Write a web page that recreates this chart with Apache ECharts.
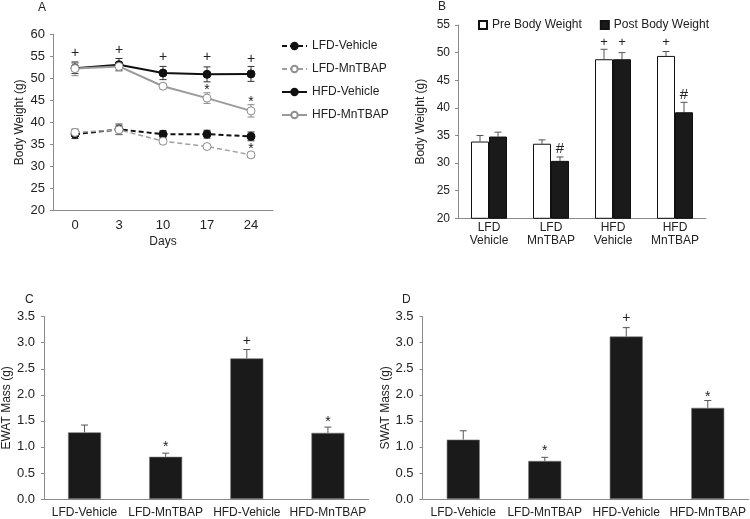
<!DOCTYPE html>
<html><head><meta charset="utf-8">
<script src="https://cdn.jsdelivr.net/npm/echarts@6/dist/echarts.min.js"></script>
<style>html,body{margin:0;padding:0;background:#fff}#c{width:750px;height:519px}</style>
</head><body><div id="c"></div>
<script>
// ---- Panel A data ----
const days = ['0', '3', '10', '17', '24'];
const lfdVeh = [37.3, 38.4, 37.3, 37.3, 36.8];
const lfdVehErr = [1.0, 1.2, 0.8, 0.9, 1.0];
const lfdMn = [37.7, 38.3, 35.7, 34.5, 32.6];
const lfdMnErr = [0.8, 1.0, 0.6, 0.5, 0.6];
const hfdVeh = [52.3, 53.1, 51.2, 50.9, 51.0];
const hfdVehErr = [1.2, 1.4, 1.5, 1.7, 1.7];
const hfdMn = [52.2, 52.7, 48.2, 45.5, 42.6];
const hfdMnErr = [1.6, 0.8, 0.6, 1.2, 1.4];
const markA = [[0, 55.8, '+'], [1, 56.4, '+'], [2, 54.8, '+'], [3, 54.7, '+'], [4, 54.4, '+'],
               [3, 48.0, '*'], [4, 45.2, '*'], [4, 34.5, '*']];
// ---- Panel B data ----
const groups = ['LFD\nVehicle', 'LFD\nMnTBAP', 'HFD\nVehicle', 'HFD\nMnTBAP'];
const preBW = [33.9, 33.5, 48.8, 49.4];
const preBWErr = [1.1, 0.7, 1.8, 0.8];
const postBW = [34.8, 30.4, 48.8, 39.2];
const postBWErr = [0.8, 0.7, 1.2, 1.8];
const markBPre = [[2, 51.8, '+'], [3, 51.8, '+']];
const markBPost = [[1, 32.5, '#'], [2, 51.8, '+'], [3, 42.3, '#']];
// ---- Panel C / D data ----
const cats = ['LFD-Vehicle', 'LFD-MnTBAP', 'HFD-Vehicle', 'HFD-MnTBAP'];
const ewat = [1.28, 0.81, 2.70, 1.27];
const ewatErr = [0.14, 0.07, 0.17, 0.11];
const markC = [[1, 1.06, '*'], [2, 3.03, '+'], [3, 1.53, '*']];
const swat = [1.14, 0.73, 3.12, 1.75];
const swatErr = [0.17, 0.07, 0.17, 0.14];
const markD = [[1, 0.97, '*'], [2, 3.47, '+'], [3, 2.02, '*']];

const FONT = 'Liberation Sans, Arial, sans-serif';
const TXT = '#222';
const AX = '#8a8a8a';

function zip(v, e) { return v.map((x, i) => [i, x, e[i]]); }

function errSeries(xi, yi, vals, errs, both, dx, color) {
  return {
    type: 'custom', xAxisIndex: xi, yAxisIndex: yi, z: 1, silent: true,
    data: zip(vals, errs),
    renderItem: function (params, api) {
      const i = api.value(0), v = api.value(1), e = api.value(2);
      const top = api.coord([i, v + e]);
      const bot = api.coord([i, both ? v - e : v]);
      const x = top[0] + dx;
      const st = { stroke: color || '#555', lineWidth: 1 };
      const ch = [
        { type: 'line', shape: { x1: x, y1: bot[1], x2: x, y2: top[1] }, style: st },
        { type: 'line', shape: { x1: x - 3.5, y1: top[1], x2: x + 3.5, y2: top[1] }, style: st }
      ];
      if (both) ch.push({ type: 'line', shape: { x1: x - 3.5, y1: bot[1], x2: x + 3.5, y2: bot[1] }, style: st });
      return { type: 'group', children: ch };
    }
  };
}

function markSeries(xi, yi, data, dx, size) {
  return {
    type: 'custom', xAxisIndex: xi, yAxisIndex: yi, z: 5, silent: true,
    data: data,
    renderItem: function (params, api) {
      const p = api.coord([api.value(0), api.value(1)]);
      const t = data[params.dataIndex][2];
      return { type: 'text', x: p[0] + dx, y: p[1] + (t === '*' ? 3 : 0),
        style: { text: t, fill: TXT, font: (t === '#' ? 15 : size) + 'px ' + FONT, align: 'center', verticalAlign: 'middle' } };
    }
  };
}

function yAx(gi, min, max, interval, name, gap, fs, fmt, margin) {
  return {
    type: 'value', gridIndex: gi, min: min, max: max, interval: interval,
    name: name, nameLocation: 'middle', nameGap: gap,
    nameTextStyle: { fontFamily: FONT, fontSize: 12, color: TXT },
    axisLine: { show: true, lineStyle: { color: AX, width: 1 } },
    axisTick: { show: true, length: 3, lineStyle: { color: AX } },
    splitLine: { show: false },
    axisLabel: { fontFamily: FONT, fontSize: fs, color: TXT, margin: margin || 8, formatter: fmt }
  };
}

const chart = echarts.init(document.getElementById('c'), null, { renderer: 'canvas' });
const ptStyle = (c, fill) => ({ color: fill, borderColor: c, borderWidth: 1 });
const titleStyle = { fontFamily: FONT, fontSize: 12, fontWeight: 'normal', color: TXT };

const option = {
  animation: false,
  backgroundColor: '#fff',
  title: [
    { text: 'A', left: 33, top: -3, textStyle: titleStyle },
    { text: 'B', left: 433, top: -4, textStyle: titleStyle },
    { text: 'C', left: 20, top: 289, textStyle: titleStyle },
    { text: 'D', left: 397, top: 289, textStyle: titleStyle }
  ],
  legend: [
    { orient: 'vertical', left: 276, top: 35, itemWidth: 25, itemHeight: 8, itemGap: 11,
      data: ['LFD-Vehicle', 'LFD-MnTBAP', 'HFD-Vehicle', 'HFD-MnTBAP'],
      textStyle: { fontFamily: FONT, fontSize: 12, color: TXT } },
    { orient: 'horizontal', left: 473, top: 14, itemWidth: 8, itemHeight: 8, itemGap: 18,
      data: [{ name: 'Pre Body Weight', icon: 'rect' }, { name: 'Post Body Weight', icon: 'rect' }],
      textStyle: { fontFamily: FONT, fontSize: 12, color: TXT } }
  ],
  grid: [
    { left: 53, top: 34.3, width: 220, height: 176 },
    { left: 458, top: 25, width: 248, height: 193.3 },
    { left: 43.5, top: 316.7, width: 325, height: 182.3 },
    { left: 422.5, top: 316.7, width: 326, height: 183.3 }
  ],
  xAxis: [
    { type: 'category', gridIndex: 0, data: days, name: 'Days', nameLocation: 'middle', nameGap: 25,
      nameTextStyle: { fontFamily: FONT, fontSize: 12, color: TXT },
      axisLine: { lineStyle: { color: AX } }, axisTick: { show: false },
      axisLabel: { fontFamily: FONT, fontSize: 13, color: TXT, margin: 9 } },
    { type: 'category', gridIndex: 1, data: groups,
      axisLine: { lineStyle: { color: AX } }, axisTick: { show: false },
      axisLabel: { fontFamily: FONT, fontSize: 12, color: TXT, margin: 3, lineHeight: 13, interval: 0 } },
    { type: 'category', gridIndex: 2, data: cats,
      axisLine: { lineStyle: { color: AX } }, axisTick: { show: false },
      axisLabel: { fontFamily: FONT, fontSize: 12, color: TXT, margin: 8, interval: 0 } },
    { type: 'category', gridIndex: 3, data: cats,
      axisLine: { lineStyle: { color: AX } }, axisTick: { show: false },
      axisLabel: { fontFamily: FONT, fontSize: 12, color: TXT, margin: 8, interval: 0 } }
  ],
  yAxis: [
    yAx(0, 20, 60, 5, 'Body Weight (g)', 27, 13, undefined, 8),
    yAx(1, 20, 55, 5, 'Body Weight (g)', 31, 12, undefined, 8),
    yAx(2, 0, 3.5, 0.5, 'EWAT Mass (g)', 27, 13, v => v.toFixed(1), 9),
    yAx(3, 0, 3.5, 0.5, 'SWAT Mass (g)', 25, 13, v => v.toFixed(1), 9)
  ],
  series: [
    errSeries(0, 0, lfdVeh, lfdVehErr, true, 0, '#333'),
    errSeries(0, 0, lfdMn, lfdMnErr, true, 0, '#888'),
    errSeries(0, 0, hfdVeh, hfdVehErr, true, 0, '#333'),
    errSeries(0, 0, hfdMn, hfdMnErr, true, 0, '#888'),
    { name: 'LFD-Vehicle', type: 'line', xAxisIndex: 0, yAxisIndex: 0, data: lfdVeh, z: 3,
      symbol: 'circle', symbolSize: 8, lineStyle: { color: '#111', width: 2, type: [5, 3] },
      itemStyle: ptStyle('#111', '#111') },
    { name: 'LFD-MnTBAP', type: 'line', xAxisIndex: 0, yAxisIndex: 0, data: lfdMn, z: 3,
      symbol: 'circle', symbolSize: 8, lineStyle: { color: '#a0a0a0', width: 1.5, type: [5, 3] },
      itemStyle: ptStyle('#909090', '#fff') },
    { name: 'HFD-Vehicle', type: 'line', xAxisIndex: 0, yAxisIndex: 0, data: hfdVeh, z: 3,
      symbol: 'circle', symbolSize: 8, lineStyle: { color: '#111', width: 2 },
      itemStyle: ptStyle('#111', '#111') },
    { name: 'HFD-MnTBAP', type: 'line', xAxisIndex: 0, yAxisIndex: 0, data: hfdMn, z: 3,
      symbol: 'circle', symbolSize: 8, lineStyle: { color: '#9a9a9a', width: 2 },
      itemStyle: ptStyle('#909090', '#fff') },
    markSeries(0, 0, markA, 0, 14),

    { name: 'Pre Body Weight', type: 'bar', xAxisIndex: 1, yAxisIndex: 1, data: preBW,
      barWidth: 18, barGap: '0%', itemStyle: { color: '#fff', borderColor: '#111', borderWidth: 1 } },
    { name: 'Post Body Weight', type: 'bar', xAxisIndex: 1, yAxisIndex: 1, data: postBW,
      barWidth: 18, barGap: '0%', itemStyle: { color: '#1a1a1a', borderColor: '#111', borderWidth: 1 } },
    errSeries(1, 1, preBW, preBWErr, false, -9, '#555'),
    errSeries(1, 1, postBW, postBWErr, false, 9, '#555'),
    markSeries(1, 1, markBPre, -9, 13),
    markSeries(1, 1, markBPost, 9, 13),

    { type: 'bar', xAxisIndex: 2, yAxisIndex: 2, data: ewat, barWidth: 33,
      itemStyle: { color: '#1a1a1a', borderColor: '#777', borderWidth: 0.6 } },
    errSeries(2, 2, ewat, ewatErr, false, 0, '#555'),
    markSeries(2, 2, markC, 0, 14),

    { type: 'bar', xAxisIndex: 3, yAxisIndex: 3, data: swat, barWidth: 33,
      itemStyle: { color: '#1a1a1a', borderColor: '#777', borderWidth: 0.6 } },
    errSeries(3, 3, swat, swatErr, false, 0, '#555'),
    markSeries(3, 3, markD, 0, 14)
  ]
};
chart.setOption(option);
</script></body></html>
